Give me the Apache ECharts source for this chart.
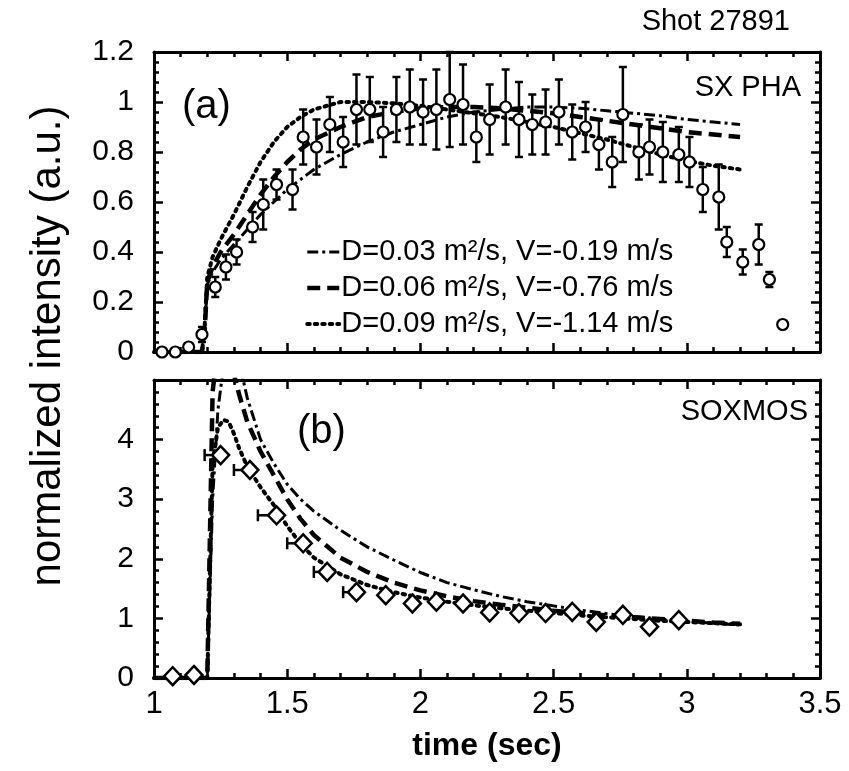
<!DOCTYPE html>
<html>
<head>
<meta charset="utf-8">
<script src="https://cdn.jsdelivr.net/npm/echarts@6/dist/echarts.min.js"></script>
<style>
html,body{margin:0;padding:0;background:#fff;}
#chart{width:849px;height:771px;}
</style>
</head>
<body>
<div id="chart"></div>
<script>
// (a) SX PHA measured points
var sxT = [1.03,1.08,1.13,1.18,1.23,1.27,1.31,1.37,1.41,1.46,1.52,1.56,1.61,1.66,1.71,1.76,1.81,1.86,1.91,1.96,2.01,2.06,2.11,2.16,2.21,2.26,2.32,2.37,2.42,2.47,2.52,2.57,2.62,2.67,2.72,2.76,2.82,2.86,2.91,2.97,3.01,3.06,3.12,3.15,3.21,3.27,3.31,3.36];
var sxV = [0.0,0.0,0.02,0.07,0.26,0.34,0.40,0.50,0.59,0.67,0.65,0.86,0.82,0.91,0.84,0.97,0.97,0.88,0.97,0.98,0.96,0.97,1.01,0.99,0.86,0.93,0.98,0.93,0.91,0.92,0.96,0.88,0.90,0.83,0.76,0.95,0.80,0.82,0.80,0.79,0.76,0.65,0.62,0.44,0.36,0.43,0.29,0.11];
var sxErr = [0,0,0,0.03,0.04,0.05,0.05,0.06,0.1,0.06,0.08,0.11,0.11,0.11,0.1,0.14,0.13,0.1,0.13,0.15,0.13,0.16,0.19,0.16,0.1,0.14,0.15,0.15,0.12,0.13,0.13,0.11,0.1,0.1,0.1,0.19,0.11,0.11,0.12,0.11,0.1,0.09,0.13,0.06,0.05,0.08,0.03,0];

// (a) model curves
var tA = [1.0,1.18,1.19,1.2,1.22,1.25,1.3,1.35,1.4,1.45,1.5,1.55,1.6,1.7,1.8,1.9,2.0,2.1,2.2,2.3,2.4,2.5,2.6,2.7,2.8,2.9,3.0,3.1,3.2];
var a003 = [0,0,0.08,0.27,0.32,0.37,0.43,0.49,0.55,0.6,0.65,0.69,0.73,0.79,0.84,0.88,0.91,0.94,0.96,0.97,0.98,0.98,0.975,0.965,0.955,0.945,0.93,0.92,0.91];
var a006 = [0,0,0.08,0.28,0.34,0.4,0.47,0.55,0.63,0.7,0.76,0.81,0.85,0.9,0.94,0.96,0.975,0.98,0.98,0.975,0.965,0.955,0.94,0.925,0.91,0.895,0.88,0.87,0.86];
var a009 = [0,0,0.1,0.3,0.38,0.45,0.55,0.66,0.76,0.84,0.9,0.94,0.97,1.0,1.0,0.995,0.985,0.97,0.955,0.94,0.92,0.9,0.875,0.85,0.82,0.79,0.765,0.745,0.73];

// (b) SOXMOS measured points
var soxT = [1.07,1.15,1.25,1.36,1.46,1.56,1.65,1.76,1.87,1.97,2.06,2.16,2.26,2.37,2.47,2.57,2.66,2.76,2.86,2.97];
var soxV = [0.03,0.05,3.74,3.49,2.73,2.26,1.78,1.44,1.39,1.25,1.28,1.25,1.1,1.09,1.09,1.11,0.94,1.06,0.86,0.97];
var soxDt = [0,0,0.06,0.06,0.07,0.06,0.05,0.05,0,0,0,0,0,0,0,0,0,0,0,0];

// (b) model curves
var tB = [1.0,1.2,1.22,1.24,1.26,1.28,1.3,1.32,1.35,1.4,1.45,1.5,1.55,1.6,1.7,1.8,1.9,2.0,2.1,2.2,2.3,2.4,2.5,2.6,2.7,2.8,2.9,3.0,3.1,3.2];
var b003 = [0,0,3.0,4.5,5.2,5.6,5.6,5.3,4.7,4.0,3.6,3.25,3.0,2.8,2.48,2.2,1.98,1.77,1.6,1.48,1.37,1.28,1.21,1.14,1.08,1.03,0.99,0.95,0.92,0.89];
var b006 = [0,0,4.8,5.6,5.8,5.5,5.1,4.75,4.3,3.8,3.4,3.0,2.67,2.4,2.02,1.78,1.6,1.47,1.37,1.29,1.23,1.18,1.13,1.09,1.05,1.02,0.99,0.96,0.93,0.91];
var b009 = [0,0,3.6,4.2,4.33,4.3,4.1,3.85,3.55,3.2,2.9,2.55,2.25,2.02,1.74,1.56,1.44,1.35,1.28,1.22,1.17,1.13,1.09,1.05,1.02,0.99,0.96,0.94,0.92,0.9];

var names = ['D=0.03 m\u00b2/s, V=-0.19 m/s', 'D=0.06 m\u00b2/s, V=-0.76 m/s', 'D=0.09 m\u00b2/s, V=-1.14 m/s'];
var yTicksA = [0,0.2,0.4,0.6,0.8,1,1.2];
var yTicksB = [0,1,2,3,4];

var FONT = '"Liberation Sans", Arial, sans-serif';
var chart = echarts.init(document.getElementById('chart'));

function pairs(t, v) { return t.map(function (x, i) { return [x, v[i]]; }); }

function xAx(grid, pos, labels) {
  return {
    type: 'value', gridIndex: grid, position: pos, min: 1, max: 3.5, interval: 0.5,
    axisLine: { onZero: false, lineStyle: { color: '#000', width: 3 } },
    axisTick: { inside: true, length: 9, lineStyle: { color: '#000', width: 2.5 } },
    minorTick: { show: true, splitNumber: 5, length: 5, lineStyle: { color: '#000', width: 2.5 } },
    splitLine: { show: false },
    axisLabel: { show: labels, color: '#000', fontSize: 31, fontFamily: FONT, margin: 11 },
    name: labels ? 'time (sec)' : '',
    nameLocation: 'middle', nameGap: 52,
    nameTextStyle: { color: '#000', fontSize: 32, fontWeight: 'bold', fontFamily: FONT }
  };
}
function yAx(grid, pos, max, interval, ticks, labels) {
  return {
    type: 'value', gridIndex: grid, position: pos, min: 0, max: max, interval: interval,
    axisLine: { onZero: false, lineStyle: { color: '#000', width: 3 } },
    axisTick: { inside: true, length: 9, lineStyle: { color: '#000', width: 2.5 } },
    minorTick: { show: true, splitNumber: 5, length: 5, lineStyle: { color: '#000', width: 2.5 } },
    splitLine: { show: false },
    axisLabel: {
      show: labels, color: '#000', fontSize: 30, fontFamily: FONT, margin: 20,
      formatter: function (v) { return ticks.indexOf(+v.toFixed(2)) >= 0 ? String(+v.toFixed(2)) : ''; }
    }
  };
}

var styles = [
  { type: [11, 4, 3, 4], width: 3 },   // dash-dot
  { type: [13, 7], width: 4.5 },       // heavy dash
  { type: [2.5, 5], width: 4, cap: 'round' } // dotted
];

function curve(name, xi, yi, data, k) {
  return {
    name: name, type: 'line', xAxisIndex: xi, yAxisIndex: yi, data: data,
    symbol: 'none', showSymbol: false, clip: true, z: 3, silent: true,
    lineStyle: Object.assign({ color: '#000' }, styles[k]),
    itemStyle: { color: '#000' }
  };
}

var errA = [];
sxT.forEach(function (t, i) { if (sxErr[i] > 0) errA.push([t, sxV[i] - sxErr[i], sxV[i] + sxErr[i]]); });
var errB = [];
soxT.forEach(function (t, i) { if (soxDt[i] > 0) errB.push([t - soxDt[i], soxV[i], t]); });

var legendData = names.map(function (n, k) {
  return { name: n, lineStyle: Object.assign({ color: '#000' }, styles[k]) };
});

var option = {
  animation: false,
  backgroundColor: '#fff',
  textStyle: { fontFamily: FONT, color: '#000' },
  grid: [
    { left: 154, right: 29, top: 52, height: 300 },
    { left: 154, right: 29, top: 380, height: 298 }
  ],
  xAxis: [xAx(0, 'bottom', false), xAx(0, 'top', false), xAx(1, 'bottom', true), xAx(1, 'top', false)],
  yAxis: [
    yAx(0, 'left', 1.2, 0.2, yTicksA, true), yAx(0, 'right', 1.2, 0.2, yTicksA, false),
    yAx(1, 'left', 5, 1, yTicksB, true), yAx(1, 'right', 5, 1, yTicksB, false)
  ],
  legend: {
    orient: 'vertical', left: 300, top: 232, itemWidth: 32, itemHeight: 14, itemGap: 6,
    data: legendData, selectedMode: false,
    itemStyle: { color: 'rgba(0,0,0,0)', borderColor: 'rgba(0,0,0,0)', borderWidth: 0 },
    textStyle: { color: '#000', fontSize: 29, fontFamily: FONT, lineHeight: 30, padding: [0, 0, 0, -3] }
  },
  graphic: [
    { type: 'text', x: 790, y: 22, style: { text: 'Shot 27891', fill: '#000', font: '29px ' + FONT, align: 'right', verticalAlign: 'middle' } },
    { type: 'text', x: 801, y: 88, style: { text: 'SX PHA', fill: '#000', font: '29px ' + FONT, align: 'right', verticalAlign: 'middle' } },
    { type: 'text', x: 182, y: 107, style: { text: '(a)', fill: '#000', font: '40px ' + FONT, align: 'left', verticalAlign: 'middle' } },
    { type: 'text', x: 297, y: 432, style: { text: '(b)', fill: '#000', font: '40px ' + FONT, align: 'left', verticalAlign: 'middle' } },
    { type: 'text', x: 808, y: 412, style: { text: 'SOXMOS', fill: '#000', font: '29px ' + FONT, align: 'right', verticalAlign: 'middle' } },
    { type: 'text', x: 48, y: 346, rotation: Math.PI / 2, style: { text: 'normalized intensity (a.u.)', fill: '#000', font: '42px ' + FONT, align: 'center', verticalAlign: 'middle' } }
  ],
  series: [
    curve(names[0], 0, 0, pairs(tA, a003), 0),
    curve(names[1], 0, 0, pairs(tA, a006), 1),
    curve(names[2], 0, 0, pairs(tA, a009), 2),
    curve(names[0], 2, 2, pairs(tB, b003), 0),
    curve(names[1], 2, 2, pairs(tB, b006), 1),
    curve(names[2], 2, 2, pairs(tB, b009), 2),
    {
      type: 'custom', xAxisIndex: 0, yAxisIndex: 0, data: errA, z: 4, silent: true,
      encode: { x: 0, y: [1, 2] },
      renderItem: function (params, api) {
        var lo = api.coord([api.value(0), api.value(1)]);
        var hi = api.coord([api.value(0), api.value(2)]);
        var st = { stroke: '#000', lineWidth: 2.5 };
        return { type: 'group', children: [
          { type: 'line', shape: { x1: lo[0], y1: lo[1], x2: hi[0], y2: hi[1] }, style: st },
          { type: 'line', shape: { x1: lo[0] - 4, y1: lo[1], x2: lo[0] + 4, y2: lo[1] }, style: st },
          { type: 'line', shape: { x1: hi[0] - 4, y1: hi[1], x2: hi[0] + 4, y2: hi[1] }, style: st }
        ] };
      }
    },
    {
      type: 'scatter', xAxisIndex: 0, yAxisIndex: 0, data: pairs(sxT, sxV), z: 5, silent: true,
      symbol: 'circle', symbolSize: 11,
      itemStyle: { color: '#fff', borderColor: '#000', borderWidth: 2.2, opacity: 1 }
    },
    {
      type: 'custom', xAxisIndex: 2, yAxisIndex: 2, data: errB, z: 4, silent: true,
      encode: { x: [0, 2], y: 1 },
      renderItem: function (params, api) {
        var a = api.coord([api.value(0), api.value(1)]);
        var b = api.coord([api.value(2), api.value(1)]);
        var st = { stroke: '#000', lineWidth: 2.5 };
        return { type: 'group', children: [
          { type: 'line', shape: { x1: a[0], y1: a[1], x2: b[0], y2: b[1] }, style: st },
          { type: 'line', shape: { x1: a[0], y1: a[1] - 6, x2: a[0], y2: a[1] + 6 }, style: st }
        ] };
      }
    },
    {
      type: 'scatter', xAxisIndex: 2, yAxisIndex: 2, data: pairs(soxT, soxV), z: 5, silent: true,
      symbol: 'diamond', symbolSize: [17, 18],
      itemStyle: { color: '#fff', borderColor: '#000', borderWidth: 2.5, opacity: 1 }
    }
  ]
};

option && chart.setOption(option);
</script>
</body>
</html>
